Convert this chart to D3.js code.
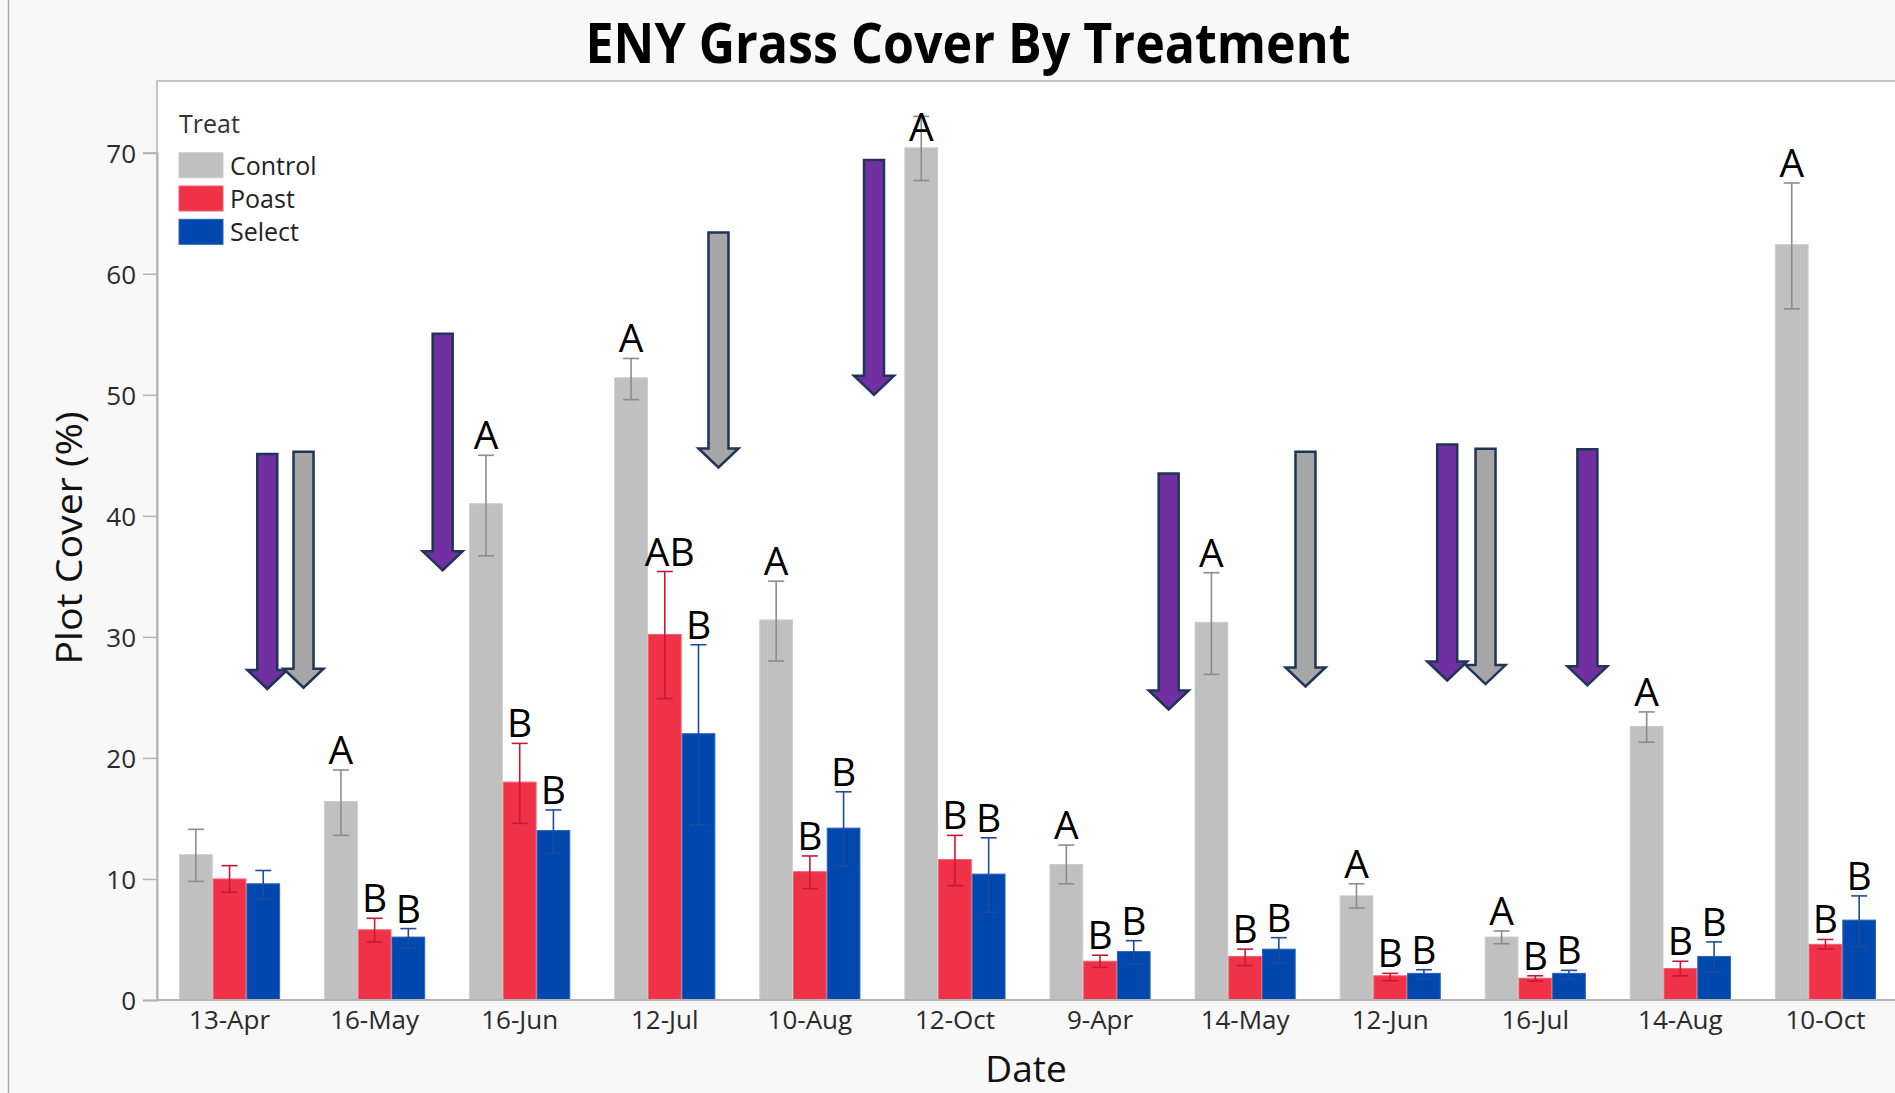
<!DOCTYPE html>
<html>
<head>
<meta charset="utf-8">
<script src="https://cdn.jsdelivr.net/npm/d3@7"></script>
<style>
  html, body { margin: 0; padding: 0; background: #f8f8f8; }
  svg { display: block; }
  text { font-family: "Open Sans", "Noto Sans", sans-serif; }
</style>
</head>
<body>
<svg id="chart" width="1895" height="1093"></svg>
<script>
// ---------- DATA ----------
const dates = ["13-Apr","16-May","16-Jun","12-Jul","10-Aug","12-Oct","9-Apr","14-May","12-Jun","16-Jul","14-Aug","10-Oct"];
const treats = ["Control","Poast","Select"];

const control   = [12.0, 16.4, 41.0, 51.4, 31.4, 70.4, 11.2, 31.2, 8.6, 5.2, 22.6, 62.4];
const controlHi = [14.1, 19.0, 45.0, 53.0, 34.6, 73.0, 12.8, 35.3, 9.6, 5.7, 23.8, 67.5];
const controlLo = [9.8, 13.6, 36.7, 49.6, 28.0, 67.7, 9.6, 26.9, 7.6, 4.65, 21.3, 57.1];

const poast   = [10.0, 5.8, 18.0, 30.2, 10.6, 11.6, 3.2, 3.6, 2.0, 1.8, 2.6, 4.6];
const poastHi = [11.1, 6.75, 21.2, 35.4, 11.9, 13.6, 3.7, 4.2, 2.2, 2.0, 3.2, 5.0];
const poastLo = [8.9, 4.8, 14.6, 24.9, 9.2, 9.45, 2.7, 2.85, 1.6, 1.57, 2.0, 4.2];

const select   = [9.6, 5.2, 14.0, 22.0, 14.2, 10.4, 4.0, 4.2, 2.2, 2.2, 3.6, 6.6];
const selectHi = [10.7, 5.9, 15.7, 29.35, 17.2, 13.4, 4.9, 5.15, 2.5, 2.45, 4.8, 8.6];
const selectLo = [8.35, 4.3, 12.1, 14.5, 11.05, 7.25, 2.95, 3.06, 1.7, 1.7, 2.3, 4.4];

const controlLetters = ["", "A","A","A","A","A","A","A","A","A","A","A"];
const poastLetters   = ["", "B","B","AB","B","B","B","B","B","B","B","B"];
const selectLetters  = ["", "B","B","B","B","B","B","B","B","B","B","B"];

const yTicks = [0, 10, 20, 30, 40, 50, 60, 70];

// Treatment timing arrows: position along the date axis (in band steps) and top/tip in % cover
const arrowPos  = [0.760, 1.010, 1.969, 3.870, 4.942, 6.973, 7.916, 8.893, 9.157, 9.859];
const arrowTop  = [45.1, 45.3, 55.05, 63.4, 69.4, 43.5, 45.3, 45.9, 45.55, 45.5];
const arrowTip  = [25.7, 25.8, 35.5, 44.0, 50.0, 24.0, 25.9, 26.4, 26.1, 26.0];
const arrowKind = ["Poast","Control","Poast","Control","Poast","Poast","Control","Poast","Control","Poast"];

// ---------- STYLE ----------
const W = 1895, H = 1093;
const plotLeft = 157, plotTop = 81, plotBottom = 1000, plotRight = 1898;
const barColor = {Control: "#c0c0c0", Poast: "#ef3247", Select: "#0048ae"};
const barEdge  = {Control: "#cbcbcb", Poast: "#f4606f", Select: "#2a64bb"};
const errColor = {Control: "#8c8c8c", Poast: "#c8183a", Select: "#1d4c9c"};
const arrowFill = {Poast: "#7030a0", Control: "#a6a6a6"};

const series = {
  Control: {v: control, hi: controlHi, lo: controlLo, lab: controlLetters},
  Poast:   {v: poast,   hi: poastHi,   lo: poastLo,   lab: poastLetters},
  Select:  {v: select,  hi: selectHi,  lo: selectLo,  lab: selectLetters}
};

const svg = d3.select("#chart");

// backgrounds
svg.append("rect").attr("x", 0).attr("y", 0).attr("width", W).attr("height", H).attr("fill", "#f8f8f8");
svg.append("line").attr("x1", 8.5).attr("x2", 8.5).attr("y1", 0).attr("y2", H)
  .attr("stroke", "#a8a8a8").attr("stroke-width", 1.5);
svg.append("rect").attr("x", plotLeft).attr("y", plotTop)
  .attr("width", W - plotLeft + 5).attr("height", plotBottom - plotTop)
  .attr("fill", "#ffffff").attr("stroke", "#c4c4c4").attr("stroke-width", 2);

// scales
const x = d3.scaleBand().domain(dates).range([plotLeft, plotRight])
  .paddingInner(0.303).paddingOuter(0.1515);
const xs = d3.scaleBand().domain(treats).range([0, x.bandwidth()]);
const y = d3.scaleLinear().domain([0, 70]).range([plotBottom, 152.7]);

// bars
const rows = [];
dates.forEach((d, i) => {
  treats.forEach(t => {
    const s = series[t];
    rows.push({date: d, treat: t, v: s.v[i], hi: s.hi[i], lo: s.lo[i], lab: s.lab[i]});
  });
});

const g = svg.append("g");
g.selectAll("rect.bar").data(rows).join("rect")
  .attr("class", "bar")
  .attr("x", r => x(r.date) + xs(r.treat) + 0.5)
  .attr("width", xs.bandwidth() - 1)
  .attr("y", r => y(r.v))
  .attr("height", r => y(0) - y(r.v))
  .attr("fill", r => barColor[r.treat])
  .attr("stroke", r => barEdge[r.treat])
  .attr("stroke-width", 1);

// error bars
const capW = 16;
const eb = g.selectAll("g.err").data(rows).join("g").attr("class", "err")
  .attr("stroke", r => errColor[r.treat]).attr("stroke-width", 1.6).attr("fill", "none");
eb.append("line")
  .attr("x1", r => x(r.date) + xs(r.treat) + xs.bandwidth() / 2)
  .attr("x2", r => x(r.date) + xs(r.treat) + xs.bandwidth() / 2)
  .attr("y1", r => y(r.hi)).attr("y2", r => y(r.lo));
eb.append("line")
  .attr("x1", r => x(r.date) + xs(r.treat) + xs.bandwidth() / 2 - capW / 2)
  .attr("x2", r => x(r.date) + xs(r.treat) + xs.bandwidth() / 2 + capW / 2)
  .attr("y1", r => y(r.hi)).attr("y2", r => y(r.hi));
eb.append("line")
  .attr("x1", r => x(r.date) + xs(r.treat) + xs.bandwidth() / 2 - capW / 2)
  .attr("x2", r => x(r.date) + xs(r.treat) + xs.bandwidth() / 2 + capW / 2)
  .attr("y1", r => y(r.lo)).attr("y2", r => y(r.lo));

// significance letters
g.selectAll("text.sig").data(rows.filter(r => r.lab)).join("text")
  .attr("class", "sig")
  .attr("x", r => x(r.date) + xs(r.treat) + xs.bandwidth() / 2 + (r.lab.length > 1 ? 5 : 0))
  .attr("y", r => Math.max(y(r.hi) - 6, plotTop + 60))
  .attr("text-anchor", "middle")
  .attr("font-size", 39)
  .attr("fill", "#000")
  .text(r => r.lab);

// axes
const yAxis = svg.append("g").attr("transform", `translate(${plotLeft},0)`)
  .call(d3.axisLeft(y).tickValues(yTicks).tickSize(14).tickPadding(7).tickFormat(d3.format("d")));
yAxis.select(".domain").attr("stroke", "#b4b4b4").attr("stroke-width", 2);
yAxis.selectAll(".tick line").attr("stroke", "#b4b4b4").attr("stroke-width", 1.5);
yAxis.selectAll(".tick text").attr("font-size", 26).attr("fill", "#2a2a2a")
  .attr("font-family", "'Open Sans', sans-serif").attr("dy", "0.36em");

const xAxis = svg.append("g").attr("transform", `translate(0,${plotBottom})`)
  .call(d3.axisBottom(x).tickSize(0).tickPadding(8));
xAxis.select(".domain").attr("stroke", "#b4b4b4").attr("stroke-width", 2)
  .attr("d", `M${plotLeft},0H${W}`);
xAxis.selectAll(".tick text").attr("font-size", 26).attr("fill", "#2a2a2a")
  .attr("font-family", "'Open Sans', sans-serif").attr("dy", "0.8em");

// arrows
const x0 = x.range()[0], step = x.step();
const shaftHalf = 10, headHalf = 20, headLen = 19;
arrowPos.forEach((p, i) => {
  const cx = x0 + p * step;
  const top = y(arrowTop[i]), tip = y(arrowTip[i]);
  const hb = tip - headLen;
  const pts = [[cx - shaftHalf, top], [cx + shaftHalf, top], [cx + shaftHalf, hb], [cx + headHalf, hb],
               [cx, tip], [cx - headHalf, hb], [cx - shaftHalf, hb]];
  svg.append("path").attr("d", d3.line()(pts) + "Z")
    .attr("fill", arrowFill[arrowKind[i]])
    .attr("stroke", "#1f3458").attr("stroke-width", 2.5).attr("stroke-linejoin", "miter");
});

// legend
const lg = svg.append("g");
lg.append("text").attr("x", 179).attr("y", 133).attr("font-size", 25).attr("fill", "#333").text("Treat");
treats.forEach((t, i) => {
  const yy = 152.7 + i * 33.3;
  lg.append("rect").attr("x", 179).attr("y", yy).attr("width", 44).attr("height", 25)
    .attr("fill", barColor[t]).attr("stroke", barEdge[t]).attr("stroke-width", 1);
  lg.append("text").attr("x", 230).attr("y", yy + 22).attr("font-size", 25).attr("fill", "#222").text(t);
});

// titles
function fit(sel, target) {
  const len = sel.node().getComputedTextLength();
  if (Math.abs(len - target) > 2) sel.attr("textLength", target).attr("lengthAdjust", "spacingAndGlyphs");
}
const title = svg.append("text").attr("x", 968).attr("y", 63).attr("text-anchor", "middle")
  .attr("font-size", 56).attr("font-weight", 700).attr("fill", "#000").text("ENY Grass Cover By Treatment");
fit(title, 765);

const xt = svg.append("text").attr("x", 1026).attr("y", 1082).attr("text-anchor", "middle")
  .attr("font-size", 37).attr("fill", "#111").text("Date");
fit(xt, 83);

const yt = svg.append("text").attr("transform", "translate(82,538) rotate(-90)").attr("text-anchor", "middle")
  .attr("font-size", 37).attr("fill", "#111").text("Plot Cover (%)");
fit(yt, 253);
</script>
</body>
</html>
